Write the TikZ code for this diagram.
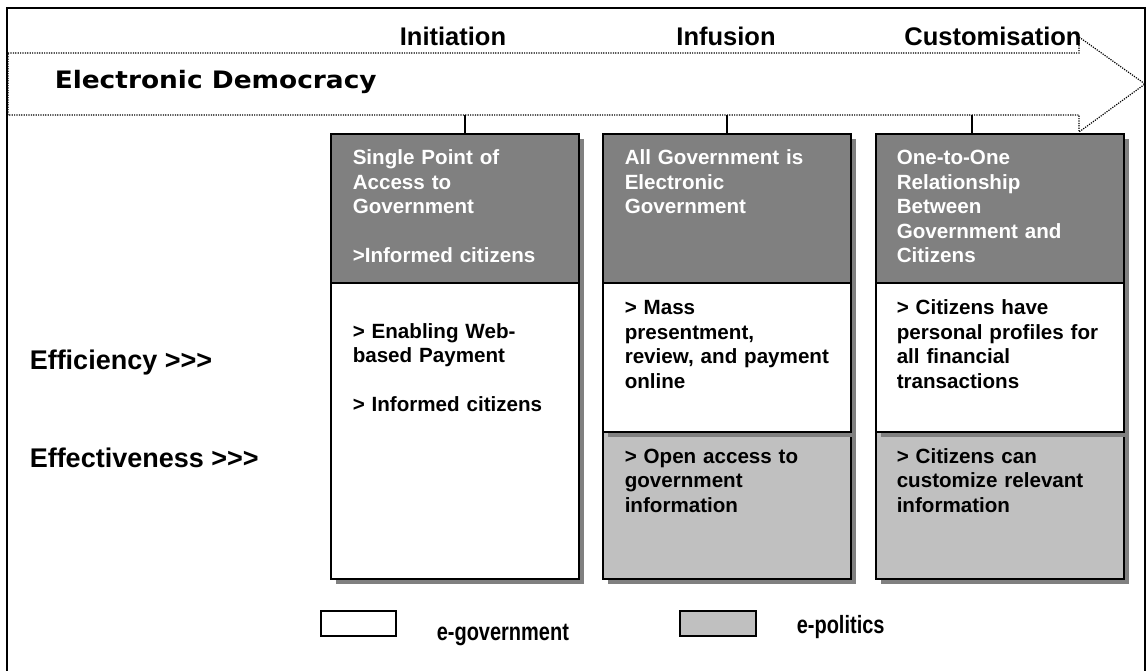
\documentclass[tikz,border=0pt]{standalone}
\usepackage{fontspec}
\setmainfont{Liberation Sans}
\newfontfamily\verdanafont{DejaVu Sans}
\usetikzlibrary{positioning}

\definecolor{headgray}{HTML}{808080}
\definecolor{boxgray}{HTML}{C0C0C0}

\newcommand{\boxfont}{\fontsize{20.6}{24.5}\selectfont\bfseries}
\newcommand{\stagefont}{\fontsize{25.5}{30}\selectfont\bfseries}
\newcommand{\rowfont}{\fontsize{27}{32}\selectfont\bfseries}

\tikzset{
  box/.style={draw=black, line width=1.5pt, inner sep=0pt, anchor=north west, minimum width=248pt},
  shade/.style={fill=headgray},
  banddots/.style={line width=1.2pt, dash pattern=on 1.2pt off 1.2pt},
  stage/.style={anchor=base, inner sep=0pt, font=\stagefont},
  rowlabel/.style={anchor=base west, inner sep=0pt, font=\rowfont},
  boxtext/.style={anchor=north west, inner sep=0pt, text width=240pt, align=left,
    font=\boxfont, execute at begin node=\noindent\strut},
  legtext/.style={anchor=base west, inner sep=0pt, font=\fontsize{25}{30}\selectfont\bfseries},
}

\begin{document}
\begin{tikzpicture}[x=1pt, y=-1pt, line width=1.5pt]
\useasboundingbox (0,0) rectangle (1148,670);
\clip (0,0) rectangle (1148,670);

% outer frame
\draw[line width=2pt] (7,680) -- (7,8) -- (1145,8) -- (1145,680);

% dotted arrow band
\draw[banddots] (8,53) -- (1079,53) -- (1079,37) -- (1145,84) -- (1079,132) -- (1079,115) -- (8,115) -- cycle;
\node[anchor=base west, inner sep=0pt, font=\verdanafont\fontsize{24}{28}\selectfont\bfseries]
  (edem) at (54,88.5) {\scalebox{1.1}[1]{Electronic Democracy}};

% stage names
\node[stage] (init) at (453,45) {Initiation};
\node[stage] (infu) at (726,45) {Infusion};
\node[stage] (cust) at (993,45) {Customisation};

% column shadows
\foreach \x in {330,602,875}
{
    \fill[shade] ({\x+6},139) rectangle ({\x+254},584);
}

% e-politics parts with shadow of the part above
\foreach \i/\x in {2/602,3/875}
{
    \node[box, fill=boxgray, minimum height=147pt] (pol\i) at (\x,431) {};
    \fill[shade] ({\x+6},288) rectangle ({\x+254},437);
    \node[box, fill=white, minimum height=149pt] (gov\i) at (\x,282) {};
}
\node[box, fill=white, minimum height=296pt] (gov1) at (330,282) {};

% dark column heads
\foreach \i/\x in {1/330,2/602,3/875}
{
    \node[box, fill=headgray, minimum height=149pt] (head\i) at (\x,133) {};
}

% ticks from the band
\coordinate (tick1) at (465,115);
\coordinate (tick2) at (727,115);
\coordinate (tick3) at (972,115);
\foreach \i in {1,2,3}
{
    \draw (tick\i) -- (tick\i |- head\i.north);
}

% head texts
\node[boxtext, text=white] (htext1) at (352,146.85)
  {Single Point of\\Access to\\Government\\[24.5pt]>Informed citizens};
\node[boxtext, text=white] (htext2) at (624,146.85)
  {All Government is\\Electronic\\Government};
\node[boxtext, text=white] (htext3) at (896,146.85)
  {One-to-One\\Relationship\\Between\\Government and\\Citizens};

% e-government texts
\node[boxtext] (gtext1) at (352,320.35)
  {> Enabling Web-\\based Payment\\[24.5pt]> Informed citizens};
\node[boxtext] (gtext2) at (624,296.85)
  {> Mass\\presentment,\\review, and payment\\online};
\node[boxtext] (gtext3) at (896,296.85)
  {> Citizens have\\personal profiles for\\all financial\\transactions};

% e-politics texts
\node[boxtext] (ptext2) at (624,445.35)
  {> Open access to\\government\\information};
\node[boxtext] (ptext3) at (896,445.35)
  {> Citizens can\\customize relevant\\information};

% row labels
\node[rowlabel] (effic) at (29,369) {Efficiency >{}>{}>};
\node[rowlabel] (effec) at (29,467) {Effectiveness >{}>{}>};

% legend
\node[box, fill=white, minimum width=75pt, minimum height=25pt] (legwhite) at (320,610) {};
\node[legtext] (leggov) at (436,640) {\scalebox{0.8}[1]{e-government}};
\node[box, fill=boxgray, minimum width=76pt, minimum height=25pt] (leggray) at (679,610) {};
\node[legtext] (legpol) at (796,633) {\scalebox{0.8}[1]{e-politics}};

\end{tikzpicture}
\end{document}
